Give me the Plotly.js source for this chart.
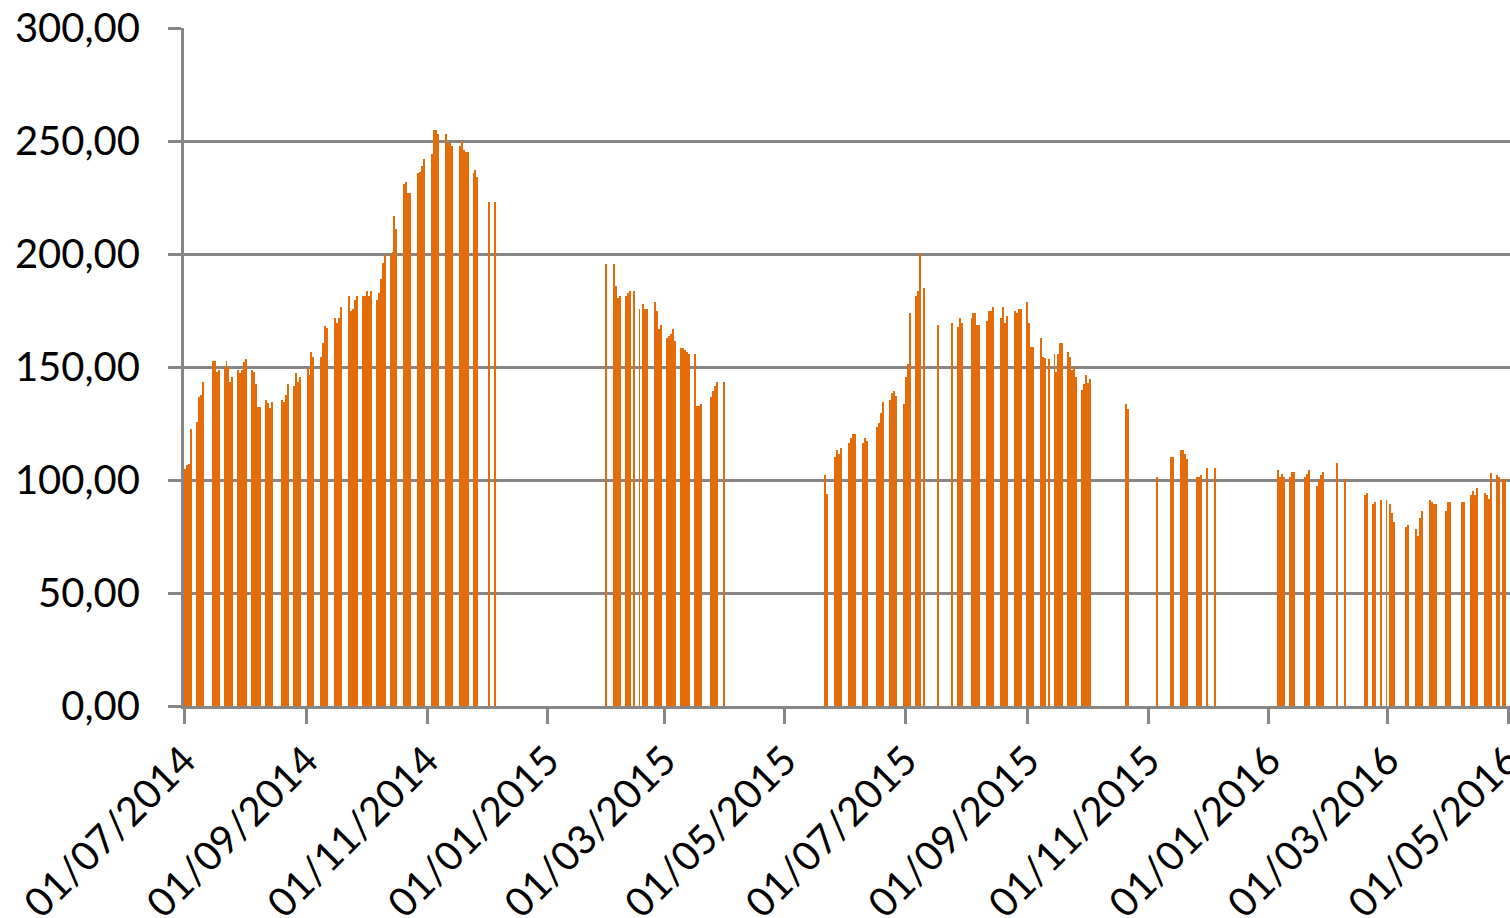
<!DOCTYPE html>
<html>
<head>
<meta charset="utf-8">
<script src="https://cdn.plot.ly/plotly-3.0.1.min.js"></script>
<style>
html,body{margin:0;padding:0;background:#ffffff;}
#chart{width:1510px;height:918px;}
</style>
</head>
<body>
<div id="chart"></div>
<script>
// Monday of each trading week that has data
const weekStarts = [
  '2014-06-30','2014-07-07','2014-07-14','2014-07-21','2014-07-28','2014-08-04','2014-08-11','2014-08-18','2014-08-25',
  '2014-09-01','2014-09-08','2014-09-15','2014-09-22','2014-09-29','2014-10-06','2014-10-13','2014-10-20','2014-10-27',
  '2014-11-03','2014-11-10','2014-11-17','2014-11-24','2014-12-01',
  '2015-01-26','2015-02-02','2015-02-09','2015-02-16','2015-02-23','2015-03-02','2015-03-09','2015-03-16','2015-03-23','2015-03-30',
  '2015-05-18','2015-05-25','2015-06-01','2015-06-08','2015-06-15','2015-06-22','2015-06-29','2015-07-06','2015-07-13','2015-07-20',
  '2015-07-27','2015-08-03','2015-08-10','2015-08-17','2015-08-24','2015-08-31','2015-09-07','2015-09-14','2015-09-21','2015-09-28',
  '2015-10-19','2015-11-02','2015-11-09','2015-11-16','2015-11-23','2015-11-30',
  '2016-01-04','2016-01-11','2016-01-18','2016-01-25','2016-02-01','2016-02-08','2016-02-15','2016-02-22','2016-02-29',
  '2016-03-07','2016-03-14','2016-03-21','2016-03-28','2016-04-04','2016-04-11','2016-04-18','2016-04-25'
];
// Values Monday..Friday for each of those weeks (null = no value)
const weekValues = [
  [null,105,106.5,107,122.5],[125.5,136.6,137.6,143.2,null],[null,152.7,152.7,147.6,148.5],[150.6,152.7,149.4,143.5,145.6],
  [148.5,147.3,148.5,152.4,153.5],[148.5,147.6,142.3,132.5,132.5],[135.4,133.9,131.7,134.5,null],[null,135.4,134.7,137.6,142.5],
  [141.6,147.3,143.5,145.6,null],
  [149.4,146.5,156.5,154.6,null],[154.6,160.5,168.3,167.4,null],[171.5,169.6,171.5,176.7,null],[181.6,174.8,175.5,179.6,181.6],
  [181.6,181.6,183.8,181.6,183.8],[179.6,182.6,188.8,195.9,199.6],[199.6,201,216.8,210.9,null],[231,232,227,227,null],
  [236,236.4,238.9,241.9,null],
  [244.1,254.9,254.9,253.1,null],[253.1,249,249,247.9,null],[247.9,250,246,245,245],[236,237.3,233.9,null,null],
  [null,222.9,null,null,222.9],
  [null,null,null,null,195.6],[null,195.6,185.8,180.7,181.6],[181.6,182.9,183.8,null,183.8],[175.7,null,177.9,175.7,175.7],
  [null,178.6,174.8,166.8,168.6],[162.7,163.7,164.6,166.7,161.6],[158.5,158.5,157.5,156.8,155.6],[155.6,132.7,132.7,133.6,null],
  [null,136.6,139.5,141.6,143.5],[null,143.5,null,null,null],
  [null,null,null,102.2,94],[null,110.3,113.3,111.4,114.3],[null,116.5,118.4,120.4,120.4],[null,116.5,118.4,117.4,null],
  [null,123.3,125.4,129.8,134.3],[null,135.4,138.4,139.5,137.3],[null,133.5,145.4,151.3,173.8],[181.4,183.8,200.6,null,185],
  [null,null,null,null,168.6],[null,null,null,null,169.6],
  [167.6,171.5,169.6,null,null],[171.5,173.8,173.8,168.6,168.6],[null,170.5,174.8,174.8,176.7],[null,171.5,176.7,169.6,172.7],
  [null,174.8,173.8,175.5,175.5],[178.6,169.3,158.7,158.7,null],[162.7,154.6,154,null,153.5],[155.8,147.6,155.8,160.8,160.8],
  [156.8,154.6,148.7,149.9,145.7],[139.8,142.3,146.5,142.8,144.6],
  [null,133.5,131.4,null,null],[null,null,null,101.2,null],[null,null,null,110.3,110.3],[null,113.3,113.3,111.5,109.3],
  [null,null,101.2,101.2,102.2],[105.5,null,null,null,105.5],
  [null,104.4,101.5,102.5,101.5],[101.5,103.4,103.4,null,null],[null,101.5,102.5,104.4,null],[97.3,100,102.2,103.4,null],
  [null,null,null,107.4,null],[100.3,null,null,null,null],[null,null,null,93.4,94.4],[89.4,90.1,null,null,91.2],
  [91.2,null,89.2,85.3,81.3],
  [null,null,null,79.1,80.1],[null,78.2,75.2,83.1,86.3],[null,91.2,90.1,89.2,89.2],[null,null,86.3,90.1,90.1],
  [null,null,null,90.1,90.1],[null,93.4,95.3,93.4,96.3],[null,94.4,93.4,91.5,103.2],[102.2,101.2,null,100.3,100.3]
];
const tickDates = ['2014-07-01','2014-09-01','2014-11-01','2015-01-01','2015-03-01','2015-05-01',
                   '2015-07-01','2015-09-01','2015-11-01','2016-01-01','2016-03-01','2016-05-01'];
const tickLabels = ['01/07/2014','01/09/2014','01/11/2014','01/01/2015','01/03/2015','01/05/2015',
                    '01/07/2015','01/09/2015','01/11/2015','01/01/2016','01/03/2016','01/05/2016'];
const yTicks = [0,50,100,150,200,250,300];

const DAY = 86400000;
function pad(n){return (n<10?'0':'')+n;}
const xs = [], ys = [];
weekStarts.forEach(function(ws, w){
  const p = ws.split('-').map(Number);
  const base = Date.UTC(p[0], p[1]-1, p[2]);
  weekValues[w].forEach(function(v, i){
    if (v === null) return;
    const d = new Date(base + i*DAY);
    xs.push(d.getUTCFullYear()+'-'+pad(d.getUTCMonth()+1)+'-'+pad(d.getUTCDate())+' 12:00:00');
    ys.push(v);
  });
});

const gray = '#868686';
const font = {family: 'Lato, "Open Sans", "Liberation Sans", sans-serif', size: 40, color: '#000000'};

const trace = {
  type: 'bar',
  x: xs,
  y: ys,
  width: DAY,
  marker: {color: '#E46C0A', line: {width: 0}},
  hoverinfo: 'x+y'
};

const layout = {
  width: 1510,
  height: 918,
  margin: {l: 184, r: 0, t: 28, b: 212, pad: 0},
  paper_bgcolor: '#ffffff',
  plot_bgcolor: '#ffffff',
  separators: ',.',
  showlegend: false,
  bargap: 0,
  font: font,
  xaxis: {
    type: 'date',
    range: ['2014-07-01', '2016-05-02'],
    tickmode: 'array',
    tickvals: tickDates,
    ticktext: tickLabels,
    tickangle: -45,
    ticklabeloverflow: 'allow',
    ticklabelstandoff: -3,
    ticks: 'outside',
    ticklen: 15,
    tickwidth: 3,
    tickcolor: gray,
    showgrid: false,
    showline: true,
    linecolor: gray,
    linewidth: 3,
    zeroline: false,
    tickfont: font,
    fixedrange: true
  },
  yaxis: {
    range: [0, 300],
    tickmode: 'array',
    tickvals: yTicks,
    tickformat: '.2f',
    ticks: 'outside',
    ticklen: 13,
    tickwidth: 3,
    tickcolor: gray,
    ticklabelstandoff: 20,
    showgrid: true,
    gridcolor: gray,
    gridwidth: 3,
    showline: true,
    linecolor: gray,
    linewidth: 3,
    zeroline: false,
    tickfont: font,
    fixedrange: true
  }
};

Plotly.newPlot('chart', [trace], layout, {displayModeBar: false, staticPlot: true});
</script>
</body>
</html>
